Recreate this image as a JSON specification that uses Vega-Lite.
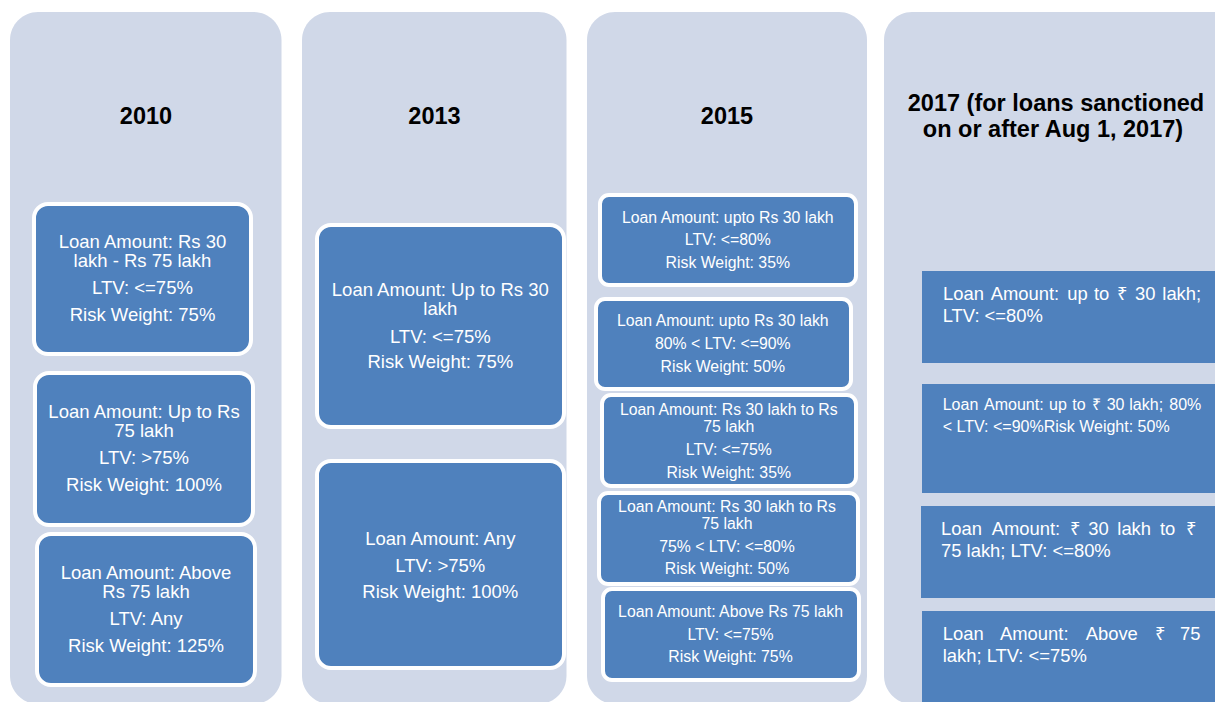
{
  "$schema": "https://vega.github.io/schema/vega-lite/v6.json",
  "width": 1215,
  "height": 702,
  "autosize": {"type": "fit", "contains": "padding"},
  "padding": 0,
  "background": "white",
  "config": {
    "view": {"stroke": null},
    "text": {"font": "Liberation Sans"}
  },
  "datasets": {
    "columns": [
      {"col": "2010", "x0": 10, "x1": 281.5, "y0": 12, "y1": 704},
      {"col": "2013", "x0": 302, "x1": 566.5, "y0": 12, "y1": 704},
      {"col": "2015", "x0": 587, "x1": 867, "y0": 12, "y1": 704},
      {"col": "2017", "x0": 884, "x1": 1260, "y0": 12, "y1": 704}
    ],
    "boxes": [
      {"col": "2010", "box": 1, "x0": 34, "x1": 251, "y0": 204, "y1": 354},
      {"col": "2010", "box": 2, "x0": 35, "x1": 253, "y0": 373, "y1": 525},
      {"col": "2010", "box": 3, "x0": 37, "x1": 255, "y0": 534, "y1": 685},
      {"col": "2013", "box": 1, "x0": 317, "x1": 564, "y0": 225, "y1": 427},
      {"col": "2013", "box": 2, "x0": 317, "x1": 564, "y0": 461, "y1": 668},
      {"col": "2015", "box": 1, "x0": 600, "x1": 856, "y0": 195, "y1": 285},
      {"col": "2015", "box": 2, "x0": 596, "x1": 851, "y0": 299, "y1": 389},
      {"col": "2015", "box": 3, "x0": 602, "x1": 856, "y0": 395, "y1": 486},
      {"col": "2015", "box": 4, "x0": 599, "x1": 858, "y0": 493, "y1": 584},
      {"col": "2015", "box": 5, "x0": 603, "x1": 859, "y0": 589, "y1": 680},
      {"col": "2017", "box": 1, "x0": 922, "x1": 1230, "y0": 271, "y1": 363},
      {"col": "2017", "box": 2, "x0": 922, "x1": 1230, "y0": 384, "y1": 493},
      {"col": "2017", "box": 3, "x0": 921, "x1": 1230, "y0": 506, "y1": 598},
      {"col": "2017", "box": 4, "x0": 922, "x1": 1230, "y0": 611, "y1": 720}
    ],
    "titles": [
      {"col": "2010", "t": "2010", "x": 146, "y": 124},
      {"col": "2013", "t": "2013", "x": 434.5, "y": 124},
      {"col": "2015", "t": "2015", "x": 727, "y": 124},
      {"col": "2017", "t": "2017 (for loans sanctioned", "x": 1056, "y": 111},
      {"col": "2017", "t": "on or after Aug 1, 2017)", "x": 1053, "y": 137}
    ],
    "lines": [
      {"col": "2010", "box": 1, "t": "Loan Amount: Rs 30", "x": 142.5, "y": 248},
      {"col": "2010", "box": 1, "t": "lakh - Rs 75 lakh", "x": 142.5, "y": 266.5},
      {"col": "2010", "box": 1, "t": "LTV: <=75%", "x": 142.5, "y": 294},
      {"col": "2010", "box": 1, "t": "Risk Weight: 75%", "x": 142.5, "y": 320.5},
      {"col": "2010", "box": 2, "t": "Loan Amount: Up to Rs", "x": 144, "y": 418.3},
      {"col": "2010", "box": 2, "t": "75 lakh", "x": 144, "y": 436.7},
      {"col": "2010", "box": 2, "t": "LTV: >75%", "x": 144, "y": 464},
      {"col": "2010", "box": 2, "t": "Risk Weight: 100%", "x": 144, "y": 491},
      {"col": "2010", "box": 3, "t": "Loan Amount: Above", "x": 146, "y": 579.3},
      {"col": "2010", "box": 3, "t": "Rs 75 lakh", "x": 146, "y": 598.3},
      {"col": "2010", "box": 3, "t": "LTV: Any", "x": 146, "y": 625},
      {"col": "2010", "box": 3, "t": "Risk Weight: 125%", "x": 146, "y": 651.7},
      {"col": "2013", "box": 1, "t": "Loan Amount: Up to Rs 30", "x": 440.3, "y": 296},
      {"col": "2013", "box": 1, "t": "lakh", "x": 440.3, "y": 315},
      {"col": "2013", "box": 1, "t": "LTV: <=75%", "x": 440.3, "y": 342.7},
      {"col": "2013", "box": 1, "t": "Risk Weight: 75%", "x": 440.3, "y": 368.3},
      {"col": "2013", "box": 2, "t": "Loan Amount: Any", "x": 440.3, "y": 545},
      {"col": "2013", "box": 2, "t": "LTV: >75%", "x": 440.3, "y": 571.7},
      {"col": "2013", "box": 2, "t": "Risk Weight: 100%", "x": 440.3, "y": 598.3},
      {"col": "2015", "box": 1, "t": "Loan Amount: upto Rs 30 lakh", "x": 727.8, "y": 222.7},
      {"col": "2015", "box": 1, "t": "LTV: <=80%", "x": 727.8, "y": 245},
      {"col": "2015", "box": 1, "t": "Risk Weight: 35%", "x": 727.8, "y": 267.7},
      {"col": "2015", "box": 2, "t": "Loan Amount: upto Rs 30 lakh", "x": 722.8, "y": 326},
      {"col": "2015", "box": 2, "t": "80% < LTV: <=90%", "x": 722.8, "y": 349.3},
      {"col": "2015", "box": 2, "t": "Risk Weight: 50%", "x": 722.8, "y": 371.7},
      {"col": "2015", "box": 3, "t": "Loan Amount: Rs 30 lakh to Rs", "x": 728.8, "y": 415},
      {"col": "2015", "box": 3, "t": "75 lakh", "x": 728.8, "y": 431.7},
      {"col": "2015", "box": 3, "t": "LTV: <=75%", "x": 728.8, "y": 455},
      {"col": "2015", "box": 3, "t": "Risk Weight: 35%", "x": 728.8, "y": 478},
      {"col": "2015", "box": 4, "t": "Loan Amount: Rs 30 lakh to Rs", "x": 727, "y": 511.7},
      {"col": "2015", "box": 4, "t": "75 lakh", "x": 727, "y": 529},
      {"col": "2015", "box": 4, "t": "75% < LTV: <=80%", "x": 727, "y": 552.3},
      {"col": "2015", "box": 4, "t": "Risk Weight: 50%", "x": 727, "y": 574.3},
      {"col": "2015", "box": 5, "t": "Loan Amount: Above Rs 75 lakh", "x": 730.5, "y": 616.7},
      {"col": "2015", "box": 5, "t": "LTV: <=75%", "x": 730.5, "y": 640},
      {"col": "2015", "box": 5, "t": "Risk Weight: 75%", "x": 730.5, "y": 662.3},
      {"col": "2017", "box": 1, "t": "Loan", "x": 943, "y": 300},
      {"col": "2017", "box": 1, "t": "Amount:", "x": 990.7, "y": 300},
      {"col": "2017", "box": 1, "t": "up", "x": 1067.3, "y": 300},
      {"col": "2017", "box": 1, "t": "to", "x": 1094, "y": 300},
      {"col": "2017", "box": 1, "t": "₹", "x": 1117.3, "y": 300},
      {"col": "2017", "box": 1, "t": "30", "x": 1135, "y": 300},
      {"col": "2017", "box": 1, "t": "lakh;", "x": 1162.3, "y": 300},
      {"col": "2017", "box": 1, "t": "LTV: <=80%", "x": 942.7, "y": 322},
      {"col": "2017", "box": 2, "t": "Loan", "x": 942.7, "y": 410},
      {"col": "2017", "box": 2, "t": "Amount:", "x": 984, "y": 410},
      {"col": "2017", "box": 2, "t": "up", "x": 1049, "y": 410},
      {"col": "2017", "box": 2, "t": "to", "x": 1072.3, "y": 410},
      {"col": "2017", "box": 2, "t": "₹", "x": 1091.7, "y": 410},
      {"col": "2017", "box": 2, "t": "30", "x": 1106.7, "y": 410},
      {"col": "2017", "box": 2, "t": "lakh;", "x": 1129.3, "y": 410},
      {"col": "2017", "box": 2, "t": "80%", "x": 1169.3, "y": 410},
      {"col": "2017", "box": 2, "t": "< LTV: <=90%Risk Weight: 50%", "x": 942.7, "y": 432},
      {"col": "2017", "box": 3, "t": "Loan", "x": 941, "y": 535},
      {"col": "2017", "box": 3, "t": "Amount:", "x": 991.7, "y": 535},
      {"col": "2017", "box": 3, "t": "₹", "x": 1070, "y": 535},
      {"col": "2017", "box": 3, "t": "30", "x": 1088.3, "y": 535},
      {"col": "2017", "box": 3, "t": "lakh", "x": 1117.3, "y": 535},
      {"col": "2017", "box": 3, "t": "to", "x": 1160, "y": 535},
      {"col": "2017", "box": 3, "t": "₹", "x": 1186, "y": 535},
      {"col": "2017", "box": 3, "t": "75 lakh; LTV: <=80%", "x": 941, "y": 557},
      {"col": "2017", "box": 4, "t": "Loan", "x": 942.7, "y": 640},
      {"col": "2017", "box": 4, "t": "Amount:", "x": 1000, "y": 640},
      {"col": "2017", "box": 4, "t": "Above", "x": 1085.7, "y": 640},
      {"col": "2017", "box": 4, "t": "₹", "x": 1155, "y": 640},
      {"col": "2017", "box": 4, "t": "75", "x": 1180, "y": 640},
      {"col": "2017", "box": 4, "t": "lakh; LTV: <=75%", "x": 942.7, "y": 662}
    ]
  },
  "layer": [
    {
      "data": {"name": "columns"},
      "mark": {"type": "rect", "cornerRadius": 28, "fill": "#D0D8E8", "clip": true},
      "encoding": {
        "x": {"field": "x0", "type": "quantitative", "scale": {"domain": [0, 1215], "nice": false, "zero": false}, "axis": null},
        "x2": {"field": "x1"},
        "y": {"field": "y0", "type": "quantitative", "scale": {"domain": [0, 702], "nice": false, "zero": false, "reverse": true}, "axis": null},
        "y2": {"field": "y1"}
      }
    },
    {
      "data": {"name": "boxes"},
      "transform": [{"filter": "datum.col == '2010' || datum.col == '2013'"}],
      "mark": {"type": "rect", "cornerRadius": 14, "fill": "#4F81BD", "stroke": "#FFFFFF", "strokeWidth": 4},
      "encoding": {
        "x": {"field": "x0", "type": "quantitative"},
        "x2": {"field": "x1"},
        "y": {"field": "y0", "type": "quantitative"},
        "y2": {"field": "y1"}
      }
    },
    {
      "data": {"name": "boxes"},
      "transform": [{"filter": "datum.col == '2015'"}],
      "mark": {"type": "rect", "cornerRadius": 9, "fill": "#4F81BD", "stroke": "#FFFFFF", "strokeWidth": 4},
      "encoding": {
        "x": {"field": "x0", "type": "quantitative"},
        "x2": {"field": "x1"},
        "y": {"field": "y0", "type": "quantitative"},
        "y2": {"field": "y1"}
      }
    },
    {
      "data": {"name": "boxes"},
      "transform": [{"filter": "datum.col == '2017'"}],
      "mark": {"type": "rect", "fill": "#4F81BD", "clip": true},
      "encoding": {
        "x": {"field": "x0", "type": "quantitative"},
        "x2": {"field": "x1"},
        "y": {"field": "y0", "type": "quantitative"},
        "y2": {"field": "y1"}
      }
    },
    {
      "data": {"name": "titles"},
      "mark": {"type": "text", "fontSize": 23.5, "fontWeight": "bold", "color": "#000000", "align": "center", "baseline": "alphabetic"},
      "encoding": {
        "x": {"field": "x", "type": "quantitative"},
        "y": {"field": "y", "type": "quantitative"},
        "text": {"field": "t"}
      }
    },
    {
      "data": {"name": "lines"},
      "transform": [{"filter": "datum.col == '2010' || datum.col == '2013'"}],
      "mark": {"type": "text", "fontSize": 18.5, "color": "#FFFFFF", "align": "center", "baseline": "alphabetic"},
      "encoding": {
        "x": {"field": "x", "type": "quantitative"},
        "y": {"field": "y", "type": "quantitative"},
        "text": {"field": "t"}
      }
    },
    {
      "data": {"name": "lines"},
      "transform": [{"filter": "datum.col == '2015'"}],
      "mark": {"type": "text", "fontSize": 15.8, "color": "#FFFFFF", "align": "center", "baseline": "alphabetic"},
      "encoding": {
        "x": {"field": "x", "type": "quantitative"},
        "y": {"field": "y", "type": "quantitative"},
        "text": {"field": "t"}
      }
    },
    {
      "data": {"name": "lines"},
      "transform": [{"filter": "datum.col == '2017' && datum.box != 2"}],
      "mark": {"type": "text", "fontSize": 18.4, "color": "#FFFFFF", "align": "left", "baseline": "alphabetic"},
      "encoding": {
        "x": {"field": "x", "type": "quantitative"},
        "y": {"field": "y", "type": "quantitative"},
        "text": {"field": "t"}
      }
    },
    {
      "data": {"name": "lines"},
      "transform": [{"filter": "datum.col == '2017' && datum.box == 2"}],
      "mark": {"type": "text", "fontSize": 16, "color": "#FFFFFF", "align": "left", "baseline": "alphabetic"},
      "encoding": {
        "x": {"field": "x", "type": "quantitative"},
        "y": {"field": "y", "type": "quantitative"},
        "text": {"field": "t"}
      }
    }
  ]
}
